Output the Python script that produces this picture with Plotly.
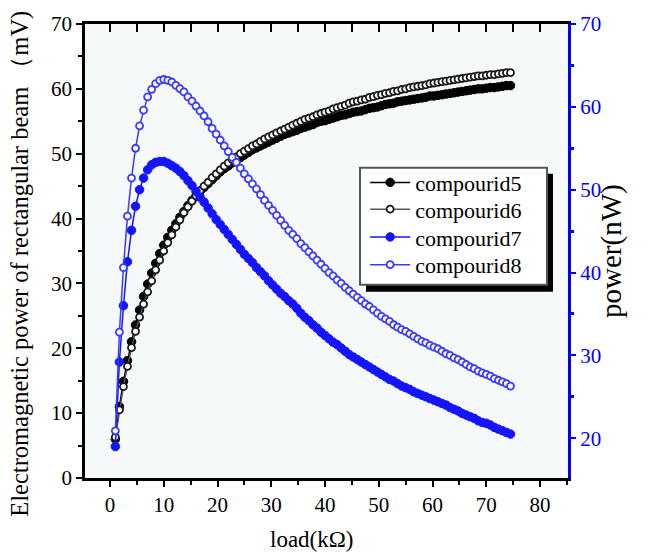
import plotly.graph_objects as go

load_kohm = [1, 1.75, 2.5, 3.25, 4, 4.75, 5.5, 6.25, 7, 7.75, 8.5, 9.25, 10, 10.75, 11.5, 12.25,
             13, 13.75, 14.5, 15.25, 16, 16.75, 17.5, 18.25, 19, 19.75, 20.5, 21.25, 22, 22.75,
             23.5, 24.25, 25, 25.75, 26.5, 27.25, 28, 28.75, 29.5, 30.25, 31, 31.75, 32.5, 33.25,
             34, 34.75, 35.5, 36.25, 37, 37.75, 38.5, 39.25, 40, 40.75, 41.5, 42.25, 43, 43.75,
             44.5, 45.25, 46, 46.75, 47.5, 48.25, 49, 49.75, 50.5, 51.25, 52, 52.75, 53.5, 54.25,
             55, 55.75, 56.5, 57.25, 58, 58.75, 59.5, 60.25, 61, 61.75, 62.5, 63.25, 64, 64.75,
             65.5, 66.25, 67, 67.75, 68.5, 69.25, 70, 70.75, 71.5, 72.25, 73, 73.75, 74.5]

# voltage (mV), left axis
compourid5 = [6.0, 11.0, 14.9, 18.1, 21.0, 23.6, 25.9, 28.0, 29.9, 31.6, 33.1, 34.6, 35.9, 37.1, 38.2, 39.2,
              40.2, 41.1, 42.0, 42.8, 43.5, 44.2, 44.8, 45.4, 46.0, 46.6, 47.2, 47.7, 48.1, 48.6,
              49.0, 49.4, 49.8, 50.2, 50.6, 50.9, 51.2, 51.5, 51.8, 52.1, 52.4, 52.7, 53.0, 53.2,
              53.4, 53.6, 53.9, 54.1, 54.3, 54.5, 54.8, 55.0, 55.1, 55.3, 55.5, 55.7, 55.9, 56.0,
              56.2, 56.4, 56.5, 56.6, 56.8, 57.0, 57.1, 57.2, 57.4, 57.6, 57.7, 57.8, 58.0, 58.1,
              58.2, 58.3, 58.4, 58.5, 58.6, 58.7, 58.9, 58.9, 59.0, 59.1, 59.2, 59.3, 59.4, 59.5,
              59.6, 59.7, 59.8, 59.9, 60.0, 60.0, 60.1, 60.2, 60.2, 60.3, 60.4, 60.5, 60.5]
compourid6 = [6.3, 10.5, 14.1, 17.2, 20.1, 22.6, 24.8, 26.8, 28.7, 30.4, 32.1, 33.6, 35.0, 36.3, 37.5, 38.7,
              39.8, 40.9, 41.8, 42.7, 43.5, 44.3, 45.0, 45.6, 46.3, 46.9, 47.5, 48.1, 48.6, 49.1,
              49.5, 50.0, 50.4, 50.8, 51.2, 51.5, 51.9, 52.3, 52.6, 52.9, 53.2, 53.5, 53.8, 54.1,
              54.4, 54.7, 55.0, 55.3, 55.5, 55.7, 56.0, 56.2, 56.4, 56.6, 56.9, 57.1, 57.3, 57.5,
              57.8, 58.0, 58.1, 58.3, 58.4, 58.7, 58.8, 59.0, 59.1, 59.3, 59.4, 59.6, 59.7, 59.9,
              60.0, 60.2, 60.3, 60.4, 60.5, 60.6, 60.8, 60.9, 61.0, 61.1, 61.2, 61.3, 61.4, 61.5,
              61.6, 61.7, 61.8, 61.9, 62.0, 62.0, 62.1, 62.2, 62.2, 62.3, 62.4, 62.5, 62.5]
# power (nW), right axis
compourid7 = [19.0, 29.2, 36.0, 41.3, 45.1, 48.0, 50.0, 51.4, 52.4, 53.0, 53.3, 53.4, 53.4, 53.2, 52.9, 52.6,
              52.2, 51.7, 51.1, 50.5, 49.8, 49.1, 48.5, 47.8, 47.1, 46.4, 45.8, 45.2, 44.6, 44.0,
              43.4, 42.8, 42.2, 41.7, 41.2, 40.6, 40.1, 39.6, 39.0, 38.5, 38.0, 37.5, 37.1, 36.6,
              36.2, 35.7, 35.1, 34.6, 34.2, 33.7, 33.3, 32.8, 32.4, 32.0, 31.6, 31.3, 30.9, 30.5,
              30.1, 29.8, 29.5, 29.2, 28.9, 28.6, 28.3, 28.0, 27.7, 27.4, 27.1, 26.9, 26.6, 26.3,
              26.1, 25.9, 25.6, 25.4, 25.2, 25.0, 24.8, 24.6, 24.4, 24.2, 24.0, 23.7, 23.5, 23.3,
              23.0, 22.8, 22.6, 22.4, 22.1, 21.9, 21.8, 21.6, 21.3, 21.1, 20.9, 20.7, 20.5]
compourid8 = [20.9, 32.8, 40.6, 46.8, 51.4, 55.0, 57.7, 59.6, 61.2, 62.1, 62.8, 63.2, 63.3, 63.2, 63.0, 62.6,
              62.2, 61.8, 61.2, 60.7, 60.1, 59.5, 58.9, 58.2, 57.4, 56.7, 56.0, 55.3, 54.6, 53.9,
              53.3, 52.6, 51.9, 51.3, 50.7, 50.1, 49.4, 48.7, 48.1, 47.5, 46.9, 46.3, 45.7, 45.1,
              44.6, 44.1, 43.5, 43.0, 42.5, 42.0, 41.5, 41.0, 40.5, 40.0, 39.6, 39.1, 38.7, 38.2,
              37.8, 37.4, 37.0, 36.6, 36.2, 35.9, 35.5, 35.1, 34.7, 34.4, 34.1, 33.7, 33.4, 33.1,
              32.9, 32.6, 32.3, 32.0, 31.7, 31.5, 31.2, 31.0, 30.8, 30.5, 30.2, 30.0, 29.7, 29.5,
              29.2, 28.9, 28.6, 28.4, 28.1, 27.9, 27.7, 27.5, 27.2, 27.0, 26.8, 26.6, 26.3]

series_names = ["compourid5", "compourid6", "compourid7", "compourid8"]
x_ticks = [0, 10, 20, 30, 40, 50, 60, 70, 80]
top_ticks = [0, 5, 10, 15, 20, 25, 30, 35, 40, 45, 50, 55, 60, 65, 70, 75, 80]

FONT = "Liberation Serif, Times New Roman, serif"
BLACK = "#000000"
BLUE = "#1414ff"
BLUE2 = "#3a3aff"

fig = go.Figure()
fig.add_trace(go.Scatter(x=load_kohm, y=compourid5, name=series_names[0], mode="lines+markers", legend="legend",
                         line=dict(color=BLACK, width=1.5),
                         marker=dict(symbol="circle", size=8.5, color=BLACK, line=dict(color=BLACK, width=1))))
fig.add_trace(go.Scatter(x=load_kohm, y=compourid6, name=series_names[1], mode="lines+markers", legend="legend2",
                         line=dict(color="#555555", width=1.5),
                         marker=dict(symbol="circle", size=7, color="white", line=dict(color="#1a1a1a", width=1.8))))
fig.add_trace(go.Scatter(x=load_kohm, y=compourid7, name=series_names[2], mode="lines+markers", yaxis="y2",
                         legend="legend3", line=dict(color=BLUE, width=1.5),
                         marker=dict(symbol="circle", size=8.5, color=BLUE, line=dict(color=BLUE, width=1))))
fig.add_trace(go.Scatter(x=load_kohm, y=compourid8, name=series_names[3], mode="lines+markers", yaxis="y2",
                         legend="legend4", line=dict(color=BLUE2, width=1.5),
                         marker=dict(symbol="circle", size=7, color="white", line=dict(color=BLUE2, width=1.8))))

# top mirrored axis with inward ticks
fig.add_trace(go.Scatter(x=[None], y=[None], xaxis="x2", showlegend=False, hoverinfo="skip"))

legend_style = dict(x=0.58, xanchor="left", yanchor="middle", bgcolor="rgba(0,0,0,0)", borderwidth=0,
                    font=dict(family=FONT, size=22, color=BLACK), itemwidth=40)

xr = [-4.65, 85.2]
fig.update_layout(
    width=646, height=557,
    margin=dict(l=85, r=78, t=20, b=79),
    paper_bgcolor="white",
    plot_bgcolor="#f6f9fa",
    font=dict(family=FONT, color=BLACK, size=21),
    showlegend=True,
    legend=dict(y=0.6507, **legend_style),
    legend2=dict(y=0.5917, **legend_style),
    legend3=dict(y=0.5306, **legend_style),
    legend4=dict(y=0.4694, **legend_style),
    xaxis=dict(range=xr, tickvals=x_ticks, ticks="outside", ticklen=6, tickwidth=2, tickcolor=BLACK,
               minor=dict(tickvals=[5, 15, 25, 35, 45, 55, 65, 75, 85], ticks="outside", ticklen=4, tickwidth=2, tickcolor=BLACK),
               showline=True, linecolor=BLACK, linewidth=2.5, showgrid=False, zeroline=False,
               tickfont=dict(family=FONT, size=21, color=BLACK)),
    xaxis2=dict(range=xr, overlaying="x", side="top", tickvals=top_ticks,
                ticks="inside", ticklen=8, tickwidth=2, tickcolor=BLACK, showticklabels=False,
                showline=True, linecolor=BLACK, linewidth=2.5, showgrid=False, zeroline=False),
    yaxis=dict(range=[0, 70], dtick=10, ticks="outside", ticklen=6, tickwidth=2, tickcolor=BLACK,
               minor=dict(dtick=5, tick0=0, ticks="outside", ticklen=4, tickwidth=2, tickcolor=BLACK),
               showline=True, linecolor=BLACK, linewidth=2.5, showgrid=False, zeroline=False,
               tickfont=dict(family=FONT, size=21, color=BLACK)),
    yaxis2=dict(range=[15.2, 70], dtick=10, tick0=0, overlaying="y", side="right",
                ticks="outside", ticklen=5, tickwidth=2, tickcolor="#0000ff",
                minor=dict(dtick=5, tick0=0, ticks="outside", ticklen=3, tickwidth=3, tickcolor="#0000ff"),
                showline=True, linecolor="#0000ff", linewidth=3, showgrid=False, zeroline=False,
                tickfont=dict(family=FONT, size=21, color="#0000ff")),
    annotations=[
        dict(text="load(kΩ)", xref="paper", yref="paper", x=0.470, y=-0.1354, xanchor="center", yanchor="middle",
             showarrow=False, font=dict(family=FONT, size=23, color=BLACK)),
        dict(text="Electromagnetic power of rectangular beam （mV)", xref="paper", yref="paper",
             x=-0.1346, y=0.472, xanchor="center", yanchor="middle", textangle=-90,
             showarrow=False, font=dict(family=FONT, size=24.5, color=BLACK)),
        dict(text="power(nW)", xref="paper", yref="paper", x=1.089, y=0.500, xanchor="center", yanchor="middle",
             textangle=-90, showarrow=False, font=dict(family=FONT, size=29, color=BLACK)),
    ],
    shapes=[
        dict(type="rect", xref="paper", yref="paper", x0=0.5818, x1=0.9689, y0=0.4105, y1=0.6703,
             fillcolor=BLACK, line=dict(width=0), layer="above"),
        dict(type="rect", xref="paper", yref="paper", x0=0.5694, x1=0.9565, y0=0.4258, y1=0.6834,
             fillcolor="white", line=dict(color="#555555", width=2), layer="above"),
    ],
)

fig.write_html("out.html")
